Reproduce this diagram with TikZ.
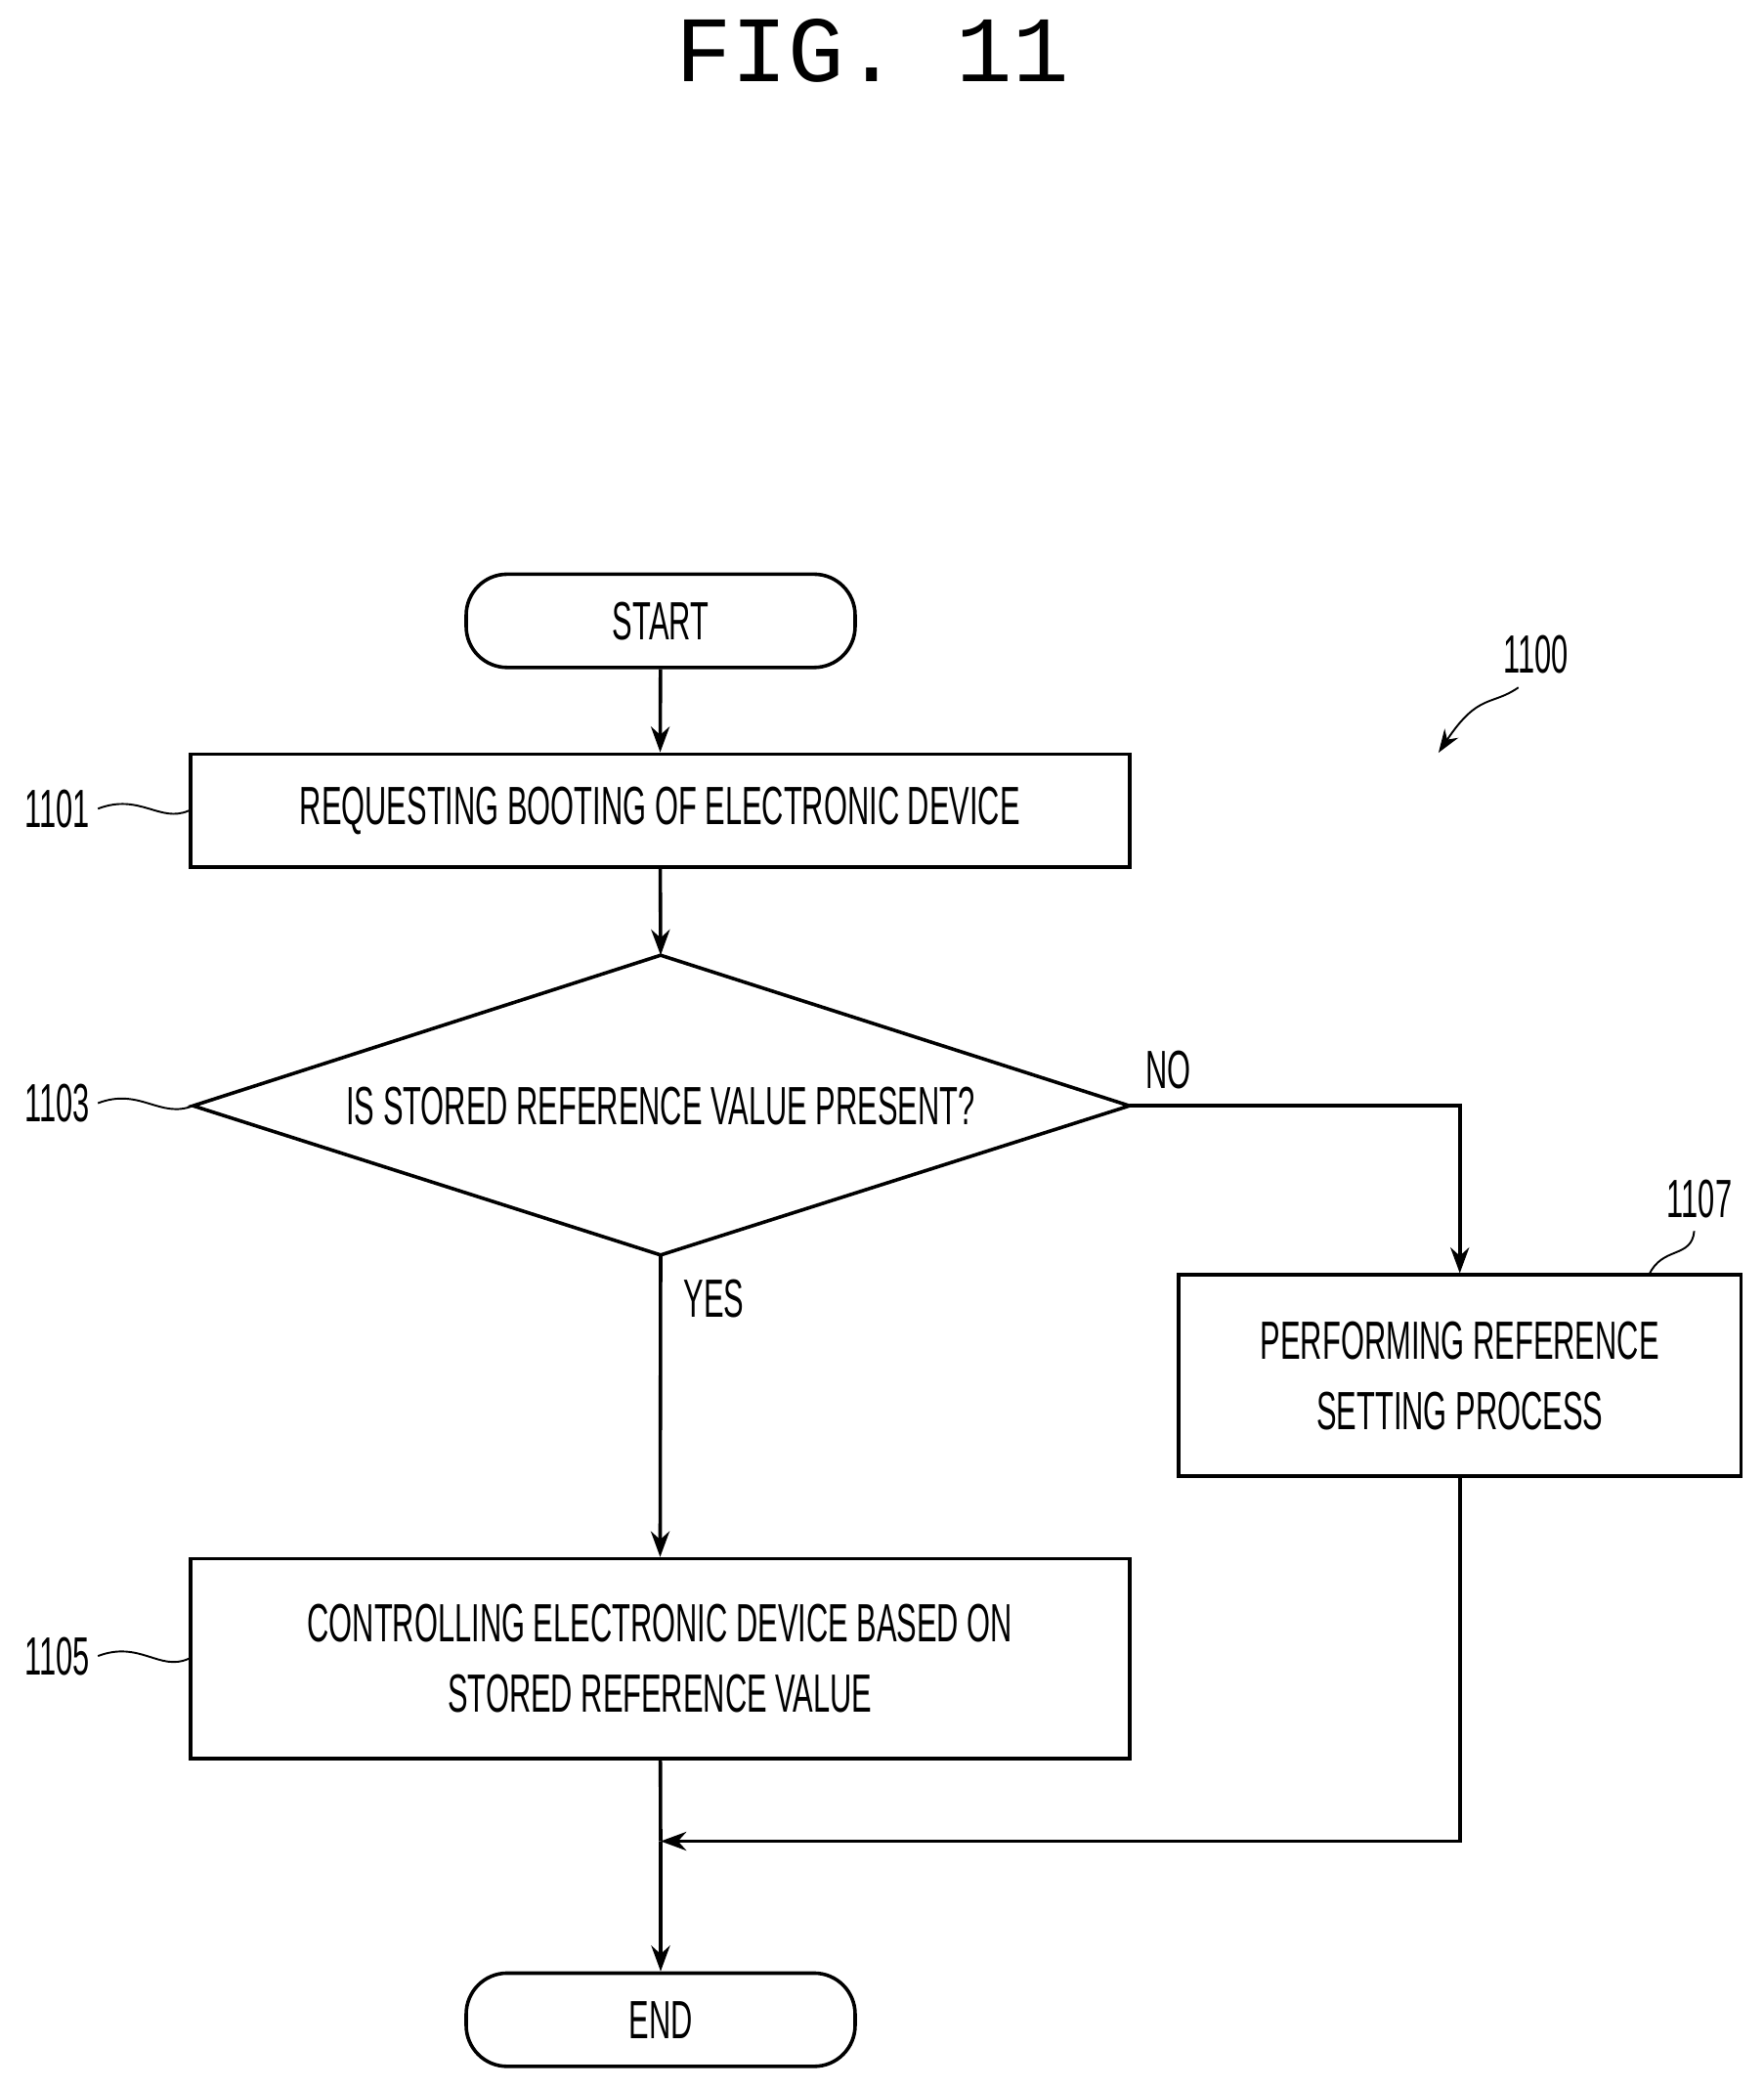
\documentclass[tikz,border=0pt]{standalone}
\usepackage{fontspec}
\setmainfont[FakeStretch=0.56]{Liberation Sans}
\newfontfamily\monof{Liberation Mono}
\usetikzlibrary{shapes.geometric,arrows.meta}
\begin{document}
\begin{tikzpicture}[x=0.02cm,y=-0.02cm,
  every node/.style={font=\fontsize{23}{30}\selectfont},
  box/.style={draw,line width=1.5pt,align=center},
  term/.style={draw,line width=1.5pt,rounded corners=17.5pt,minimum width=292*0.02cm,minimum height=70*0.02cm},
  line/.style={line width=1.5pt},
  arr/.style={line,-{Stealth[length=11pt,width=8pt]}},
  sq/.style={line width=0.8pt}]
\useasboundingbox (0,0) rectangle (1324,1568);
\node[font=\monof\fontsize{40}{40}\selectfont] (title) at (655,38) {FIG. 11};
\node[term] (start) at (496,466) {START};
\node[box,minimum width=705*0.02cm,minimum height=85*0.02cm] (b1) at (495.5,608.5) {REQUESTING BOOTING OF ELECTRONIC DEVICE};
\draw[line] (145,830) coordinate (dl) -- (496,717) coordinate (dt) -- (848,830) coordinate (dr) -- (496,942) coordinate (db) -- cycle;
\node (dtext) at (496,830) {IS STORED REFERENCE VALUE PRESENT?};
\node[box,minimum width=422*0.02cm,minimum height=151*0.02cm] (b7) at (1096,1032.5) {PERFORMING REFERENCE\\SETTING PROCESS};
\node[box,minimum width=705*0.02cm,minimum height=150*0.02cm] (b5) at (495.5,1245) {CONTROLLING ELECTRONIC DEVICE BASED ON\\STORED REFERENCE VALUE};
\node[term] (end) at (496,1516) {END};
\coordinate (m) at (496,1382);
\draw[arr] (start) -- (b1);
\draw[arr] (b1) -- (dt);
\draw[arr] (db) -- (b5);
\draw[arr] (dr) -| (b7);
\draw[line] (b5) -- (m);
\draw[arr] (m) -- (end);
\draw[arr] (b7.south) |- (m);
\node (no) at (877,803) {NO};
\node (yes) at (536,975) {YES};
\node (l1) at (43,607) {1101};
\node (l3) at (43,828) {1103};
\node (l5) at (43,1243) {1105};
\node (l7) at (1276,900) {1107};
\node (l0) at (1153,491) {1100};
\draw[sq] (l1.east) .. controls (105,595) and (120,618) .. (b1.west);
\draw[sq] (l3.east) .. controls (105,816) and (120,840) .. (dl);
\draw[sq] (l5.east) .. controls (105,1231) and (120,1255) .. (b5.west);
\draw[sq] (1272,924) .. controls (1270,945) and (1248,935) .. (1238,957);
\draw[sq,-{Stealth[length=10pt,width=7pt]}] (1140,516) .. controls (1120,530) and (1110,520) .. (1080,565);
\end{tikzpicture}
\end{document}
